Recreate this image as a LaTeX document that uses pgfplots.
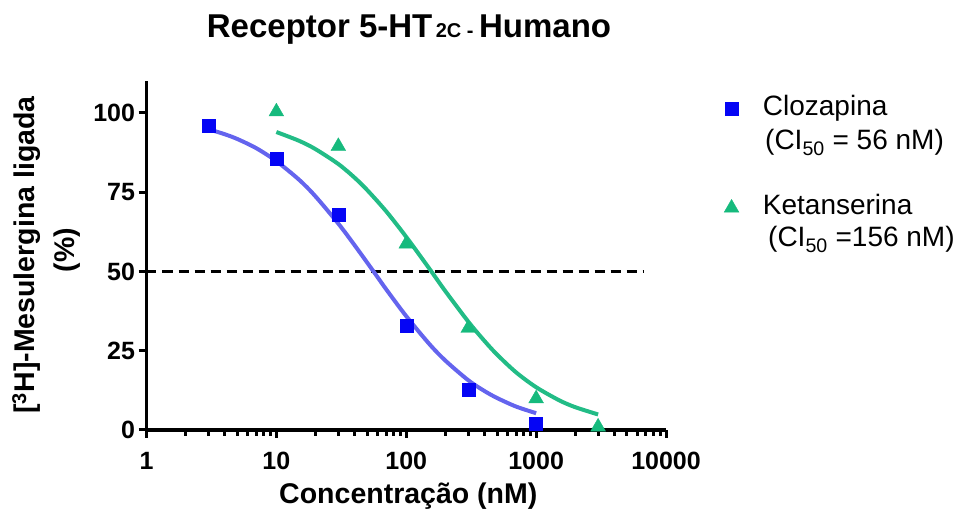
\documentclass[border=0pt]{standalone}
\usepackage{fontspec}
\setmainfont{Liberation Sans}
\usepackage{pgfplots}
\pgfplotsset{compat=1.18}
\definecolor{blueM}{RGB}{5,5,245}
\definecolor{blueL}{RGB}{100,100,238}
\definecolor{greenM}{RGB}{22,186,125}
\definecolor{greenL}{RGB}{34,188,134}
\begin{document}
\begin{tikzpicture}[x=1bp,y=1bp]
\useasboundingbox (-146.5,-84) rectangle (816.5,430);
\begin{axis}[
  at={(0,0)}, anchor=south west,
  scale only axis, width=519.5bp, height=348.7bp,
  xmode=log, xmin=1, xmax=10000, ymin=0, ymax=110,
  axis x line*=bottom, axis y line*=left,
  axis line style={line width=3.5bp},
  xtick={1,10,100,1000,10000}, xticklabels={1,10,100,1000,10000},
  ytick={0,25,50,75,100}, yticklabels={0,25,50,75,100},
  tick align=outside,
  major tick length=8bp, minor tick length=6bp,
  every tick/.style={black, line width=3bp},
  ticklabel style={font=\fontsize{25bp}{30bp}\selectfont\bfseries},
  xticklabel style={yshift=-11bp},
  clip=false,
  legend style={
    draw=none, fill=none, inner sep=0pt, outer sep=0pt,
    at={(axis description cs:1.112,0.958)}, anchor=north west,
    font=\fontsize{28bp}{32bp}\selectfont,
    row sep=73bp,
    nodes={inner sep=0pt, text height=20bp, text depth=6bp},
    /tikz/every odd column/.append style={column sep=24bp},
  },
  legend cell align=left,
]
% 50% reference line
\addplot[forget plot, black, line width=3bp, dash pattern=on 10bp off 6bp] coordinates {(1,50) (6800,50)};
% fitted curves
\addplot[forget plot, smooth, blueL, line width=4bp] coordinates {
(3,94.9) (4,93.3) (5,91.8) (7,88.9) (10,84.8) (15,78.9) (20,73.7) (30,65.1) (40,58.3)
(56,50) (70,44.4) (100,35.9) (150,27.2) (200,21.9) (300,15.7) (400,12.3) (500,10.1) (700,7.4) (1000,5.3)};
\addplot[forget plot, smooth, greenL, line width=4bp] coordinates {
(10,94.0) (15,91.2) (20,88.6) (30,83.9) (40,79.6) (50,75.7) (70,69.0) (100,60.9) (150,51.0)
(200,43.8) (300,34.2) (400,28.1) (500,23.8) (700,18.2) (1000,13.5) (1500,9.4) (2000,7.2) (3000,4.9)};
% data points
\addplot[only marks, mark=square*, mark size=6.5bp, blueM, mark options={fill=blueM, draw=blueM}] coordinates {
(3,95.9) (10,85.7) (30,67.8) (100,32.8) (300,12.6) (1000,2.1)};
\addlegendentry{Clozapina}
\addplot[only marks, mark=triangle*, mark size=8.5bp, greenM, mark options={fill=greenM, draw=greenM}] coordinates {
(10,100.4) (30,89.5) (100,58.7) (300,32.1) (1000,9.9) (3000,1.0)};
\addlegendentry{Ketanserina}
\end{axis}
% title
\node[anchor=base, font=\fontsize{33bp}{36bp}\selectfont\bfseries] at (262.5,392)
  {Receptor 5-HT{\fontsize{20bp}{22bp}\selectfont\,2C - }Humano};
% axis titles
\node[anchor=base, font=\fontsize{28.5bp}{32bp}\selectfont\bfseries] at (261.8,-73.3)
  {Concentração (nM)};
\node[anchor=base, rotate=90, font=\fontsize{28.5bp}{32bp}\selectfont\bfseries] at (-111.5,175)
  {[\textsuperscript{3}H]-Mesulergina ligada};
\node[anchor=base, rotate=90, font=\fontsize{28.5bp}{32bp}\selectfont\bfseries] at (-71.5,180)
  {(\%)};
% CI50 lines of the legend
\node[anchor=base west, inner sep=0pt, font=\fontsize{28bp}{32bp}\selectfont] at (618.5,280)
  {(CI\textsubscript{50} = 56 nM)};
\node[anchor=base west, inner sep=0pt, font=\fontsize{28bp}{32bp}\selectfont] at (621.5,183)
  {(CI\textsubscript{50} =156 nM)};
\end{tikzpicture}
\end{document}
